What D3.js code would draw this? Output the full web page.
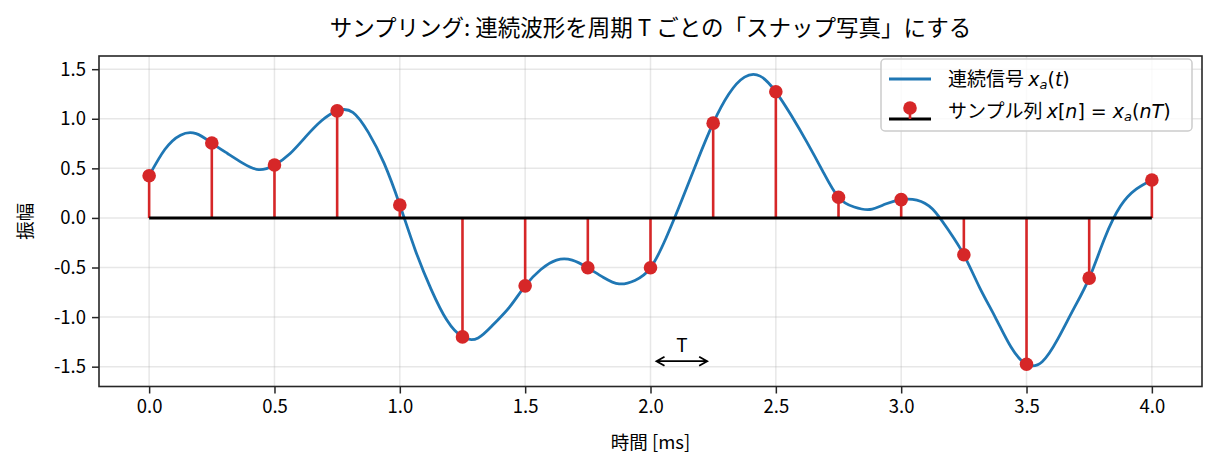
<!DOCTYPE html>
<html>
<head>
<meta charset="utf-8">
<script src="https://cdn.jsdelivr.net/npm/d3@7"></script>
<style>
  body { margin: 0; background: #fff; }
  text { font-family: "Noto Sans CJK JP", "Noto Sans", sans-serif; fill: #000; }
  .m { font-family: "DejaVu Sans", sans-serif; }
</style>
</head>
<body>
<div id="main"></div>
<script>
var WIDTH = 1217
var HEIGHT = 467

// continuous signal x_a(t), every 0.0625 ms (t = 0 .. 4)
var curveStep = 0.0625
var curveV = [
  0.426, 0.69, 0.835, 0.85, 0.755, 0.65, 0.55, 0.487,
  0.534, 0.65, 0.82, 0.98, 1.08, 1.065, 0.86, 0.55,
  0.131, -0.33, -0.72, -1.03, -1.20, -1.21, -1.07, -0.90,
  -0.685, -0.52, -0.425, -0.425, -0.503, -0.60, -0.665, -0.63,
  -0.503, -0.2, 0.18, 0.58, 0.956, 1.25, 1.42, 1.43,
  1.272, 1.03, 0.76, 0.47, 0.208, 0.11, 0.085, 0.14,
  0.185, 0.18, 0.09, -0.12, -0.372, -0.70, -1.0, -1.30,
  -1.476, -1.45, -1.22, -0.92, -0.607, -0.2, 0.12, 0.29,
  0.383]

// samples x[n] every T = 0.25 ms
var sampleT = [0, 0.25, 0.5, 0.75, 1.0, 1.25, 1.5, 1.75, 2.0, 2.25, 2.5, 2.75, 3.0, 3.25, 3.5, 3.75, 4.0]
var sampleV = [0.426, 0.755, 0.534, 1.08, 0.131, -1.20, -0.685, -0.503, -0.503, 0.956, 1.272, 0.208,
  0.185, -0.372, -1.476, -0.607, 0.383]

var xTicks = [0, 0.5, 1.0, 1.5, 2.0, 2.5, 3.0, 3.5, 4.0]
var yTicks = [-1.5, -1.0, -0.5, 0.0, 0.5, 1.0, 1.5]
var arrowT = [2.0, 2.25]
var arrowY = -1.445
var labelY = -1.35

var pL = 99, pR = 1202, pT = 56, pB = 386.5

var x = d3.scaleLinear().domain([-0.2, 4.2]).range([pL, pR])
var y = d3.scaleLinear().domain([-1.70, 1.633]).range([pB, pT])
var fmt = d => d3.format(".1f")(d).replace("\u2212", "-")

var svg = d3.select('#main').append('svg')
  .attr('width', WIDTH)
  .attr('height', HEIGHT)

svg.append('defs').append('clipPath').attr('id', 'clip')
  .append('rect').attr('x', pL).attr('y', pT)
  .attr('width', pR - pL).attr('height', pB - pT)

// grid
var grid = svg.append('g')
grid.selectAll('line.gx').data(xTicks).enter().append('line')
  .attr('x1', d => x(d)).attr('x2', d => x(d))
  .attr('y1', pT).attr('y2', pB)
  .attr('stroke', '#b0b0b0').attr('stroke-opacity', 0.3).attr('stroke-width', 1.5)
grid.selectAll('line.gy').data(yTicks).enter().append('line')
  .attr('y1', d => y(d)).attr('y2', d => y(d))
  .attr('x1', pL).attr('x2', pR)
  .attr('stroke', '#b0b0b0').attr('stroke-opacity', 0.3).attr('stroke-width', 1.5)

var plot = svg.append('g').attr('clip-path', 'url(#clip)')

// continuous waveform
var pts = curveV.map((v, i) => [i * curveStep, v])
plot.append('path')
  .datum(pts)
  .attr('d', d3.line().x(d => x(d[0])).y(d => y(d[1])).curve(d3.curveNatural))
  .attr('fill', 'none')
  .attr('stroke', '#1f77b4')
  .attr('stroke-width', 2.8)

var samples = sampleT.map((t, i) => [t, sampleV[i]])

// stems
plot.selectAll('line.stem').data(samples).enter().append('line')
  .attr('x1', d => x(d[0])).attr('x2', d => x(d[0]))
  .attr('y1', y(0)).attr('y2', d => y(d[1]))
  .attr('stroke', '#d62728').attr('stroke-width', 2.6)

// baseline
plot.append('line')
  .attr('x1', x(sampleT[0])).attr('x2', x(sampleT[sampleT.length - 1]))
  .attr('y1', y(0)).attr('y2', y(0))
  .attr('stroke', '#000').attr('stroke-width', 3)

// markers
plot.selectAll('circle').data(samples).enter().append('circle')
  .attr('cx', d => x(d[0])).attr('cy', d => y(d[1]))
  .attr('r', 6.8).attr('fill', '#d62728')

// T annotation
var ax1 = x(arrowT[0]) + 6, ax2 = x(arrowT[1]) - 6, ay = y(arrowY)
svg.append('path')
  .attr('d', 'M' + ax1 + ',' + ay + 'H' + ax2 +
    'M' + (ax1 + 8) + ',' + (ay - 4.5) + 'L' + ax1 + ',' + ay + 'L' + (ax1 + 8) + ',' + (ay + 4.5) +
    'M' + (ax2 - 8) + ',' + (ay - 4.5) + 'L' + ax2 + ',' + ay + 'L' + (ax2 - 8) + ',' + (ay + 4.5))
  .attr('fill', 'none').attr('stroke', '#000').attr('stroke-width', 1.8)
svg.append('text')
  .attr('x', x((arrowT[0] + arrowT[1]) / 2)).attr('y', y(labelY))
  .attr('text-anchor', 'middle').style('font-size', '19px')
  .text('T')

// axes
var xAxis = svg.append('g')
  .attr('transform', 'translate(0,' + pB + ')')
  .call(d3.axisBottom(x).tickValues(xTicks).tickFormat(fmt).tickSize(7).tickPadding(6))
var yAxis = svg.append('g')
  .attr('transform', 'translate(' + pL + ',0)')
  .call(d3.axisLeft(y).tickValues(yTicks).tickFormat(fmt).tickSize(7).tickPadding(6))
;[xAxis, yAxis].forEach(a => {
  a.select('.domain').remove()
  a.selectAll('line').attr('stroke', '#262626').attr('stroke-width', 1.5)
  a.selectAll('text').style('font-size', '18.5px').attr('fill', '#000')
    .style('font-family', '"Noto Sans CJK JP", sans-serif')
})

// frame
svg.append('rect')
  .attr('x', pL).attr('y', pT)
  .attr('width', pR - pL).attr('height', pB - pT)
  .attr('fill', 'none').attr('stroke', '#262626').attr('stroke-width', 1.6)

// labels
svg.append('text')
  .attr('x', (pL + pR) / 2).attr('y', 36)
  .attr('text-anchor', 'middle').style('font-size', '22.5px')
  .text('サンプリング: 連続波形を周期 T ごとの「スナップ写真」にする')
svg.append('text')
  .attr('x', (pL + pR) / 2).attr('y', 449)
  .attr('text-anchor', 'middle').style('font-size', '18.5px')
  .text('時間 [ms]')
svg.append('text')
  .attr('transform', 'translate(32,' + ((pT + pB) / 2) + ') rotate(-90)')
  .attr('text-anchor', 'middle').style('font-size', '18.5px')
  .text('振幅')

// legend
var lg = svg.append('g')
lg.append('rect')
  .attr('x', 881).attr('y', 59).attr('width', 311).attr('height', 72)
  .attr('rx', 4).attr('fill', '#fff').attr('fill-opacity', 0.8)
  .attr('stroke', '#cccccc').attr('stroke-width', 1.5)
lg.append('line')
  .attr('x1', 889).attr('x2', 931).attr('y1', 79).attr('y2', 79)
  .attr('stroke', '#1f77b4').attr('stroke-width', 2.8)
lg.append('line')
  .attr('x1', 889).attr('x2', 931).attr('y1', 119).attr('y2', 119)
  .attr('stroke', '#000').attr('stroke-width', 3)
lg.append('line')
  .attr('x1', 910).attr('x2', 910).attr('y1', 108).attr('y2', 119)
  .attr('stroke', '#d62728').attr('stroke-width', 2.6)
lg.append('circle')
  .attr('cx', 910).attr('cy', 108).attr('r', 6.8).attr('fill', '#d62728')

var t1 = lg.append('text').attr('x', 948).attr('y', 86).style('font-size', '19px')
t1.append('tspan').text('連続信号 ')
t1.append('tspan').attr('class', 'm').style('font-style', 'italic').text('x')
t1.append('tspan').attr('class', 'm').style('font-style', 'italic').style('font-size', '13px').attr('dy', 3).text('a')
t1.append('tspan').attr('class', 'm').attr('dy', -3).text('(')
t1.append('tspan').attr('class', 'm').style('font-style', 'italic').text('t')
t1.append('tspan').attr('class', 'm').text(')')

var t2 = lg.append('text').attr('x', 948).attr('y', 118).style('font-size', '19px')
t2.append('tspan').text('サンプル列 ')
t2.append('tspan').attr('class', 'm').style('font-style', 'italic').text('x')
t2.append('tspan').attr('class', 'm').text('[')
t2.append('tspan').attr('class', 'm').style('font-style', 'italic').text('n')
t2.append('tspan').attr('class', 'm').text('] = ')
t2.append('tspan').attr('class', 'm').style('font-style', 'italic').text('x')
t2.append('tspan').attr('class', 'm').style('font-style', 'italic').style('font-size', '13px').attr('dy', 3).text('a')
t2.append('tspan').attr('class', 'm').attr('dy', -3).text('(')
t2.append('tspan').attr('class', 'm').style('font-style', 'italic').text('nT')
t2.append('tspan').attr('class', 'm').text(')')
</script>
</body>
</html>
